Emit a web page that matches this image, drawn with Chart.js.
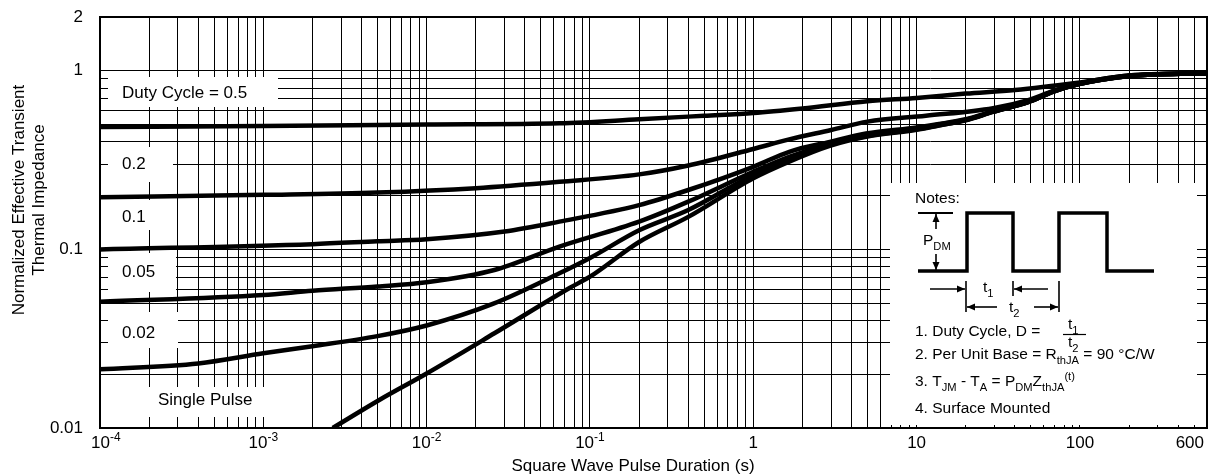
<!DOCTYPE html>
<html>
<head>
<meta charset="utf-8">
<script src="https://cdn.jsdelivr.net/npm/chart.js@4.4.1/dist/chart.umd.min.js"></script>
<style>
  html, body { margin: 0; padding: 0; background: #fff; }
  #wrap { position: relative; width: 1218px; height: 474px; }
</style>
</head>
<body>
<div id="wrap"><canvas id="zth"></canvas></div>
<script>
// pulse duration (s) and normalized Zth
const d50X = [1e-4, 1e-3, 0.01, 0.065, 0.2, 0.5, 1, 2, 5, 10, 20, 40, 100, 200, 600];
const d50Y = [0.484, 0.49, 0.5, 0.508, 0.535, 0.56, 0.58, 0.615, 0.675, 0.705, 0.745, 0.78, 0.86, 0.94, 0.97];

const d20X = [1e-4, 1e-3, 5e-3, 0.02, 0.065, 0.2, 0.4, 1, 1.66, 3, 5, 11.4, 29.4, 48.7, 68, 100, 200, 600];
const d20Y = [0.196, 0.202, 0.208, 0.22, 0.239, 0.263, 0.295, 0.365, 0.413, 0.466, 0.519, 0.56, 0.617, 0.687, 0.77, 0.85, 0.94, 0.97];

const d10X = [1e-4, 2e-3, 5e-3, 0.01, 0.03, 0.065, 0.2, 0.4, 1, 1.66, 2.94, 4.9, 10, 13.7, 20, 29.4, 48.7, 68.4, 97, 200, 600];
const d10Y = [0.1, 0.107, 0.111, 0.114, 0.126, 0.143, 0.177, 0.215, 0.29, 0.352, 0.4, 0.445, 0.482, 0.503, 0.535, 0.592, 0.672, 0.765, 0.84, 0.936, 0.97];

const d05X = [1e-4, 1e-3, 2e-3, 5e-3, 0.01, 0.026, 0.065, 0.2, 0.4, 1, 1.66, 2.94, 4.9, 10, 13.7, 20, 29.4, 48.7, 68.4, 97, 200, 600];
const d05Y = [0.0509, 0.0555, 0.0587, 0.062, 0.0655, 0.0767, 0.1037, 0.143, 0.185, 0.272, 0.33, 0.39, 0.435, 0.475, 0.5, 0.532, 0.59, 0.671, 0.764, 0.84, 0.935, 0.97];

const d02X = [1e-4, 4e-4, 1e-3, 2e-3, 5e-3, 0.01, 0.0254, 0.065, 0.1, 0.2, 0.4, 1, 1.66, 2.94, 4.9, 10, 13.7, 20, 29.4, 48.7, 68.4, 97, 200, 600];
const d02Y = [0.0213, 0.023, 0.0262, 0.0287, 0.0327, 0.0375, 0.0495, 0.0735, 0.0895, 0.128, 0.166, 0.261, 0.317, 0.385, 0.43, 0.47, 0.495, 0.53, 0.59, 0.67, 0.763, 0.84, 0.935, 0.97];

const singleX = [2.66e-3, 5.16e-3, 0.01, 0.026, 0.075, 0.1, 0.2, 0.4, 1, 1.66, 2.94, 4.9, 10, 13.7, 20, 29.4, 48.7, 68.4, 97, 200, 600];
const singleY = [0.01, 0.0144, 0.0202, 0.0339, 0.0608, 0.0703, 0.11, 0.152, 0.25, 0.31, 0.38, 0.427, 0.467, 0.494, 0.528, 0.588, 0.67, 0.762, 0.84, 0.935, 0.97];

const seriesNames = ["Duty Cycle = 0.5", "0.2", "0.1", "0.05", "0.02", "Single Pulse"];

// axis labels
const xLabelVals = [1e-4, 1e-3, 1e-2, 1e-1, 1, 10, 100, 600];
const xLabelBase = ["10", "10", "10", "10", "1", "10", "100", "600"];
const xLabelExp  = ["-4", "-3", "-2", "-1", "", "", "", ""];
const yLabelVals = [0.01, 0.1, 1, 2];
const yLabelText = ["0.01", "0.1", "1", "2"];

const FONT = '"Liberation Sans", Arial, Helvetica, sans-serif';

// grid lines at 1..9 of every decade
function decadeGrid(fromExp, toExp, max) {
  const out = [];
  for (let e = fromExp; e <= toExp; e++) {
    for (let d = 1; d <= 9; d++) {
      const v = +(d * Math.pow(10, e)).toPrecision(3);
      if (v <= max) out.push(v);
    }
  }
  return out;
}
const xGridVals = decadeGrid(-4, 2, 600);
const yGridVals = decadeGrid(-2, 0, 2);

function rich(ctx, x, y, parts, size) {
  let cx = x;
  parts.forEach(([t, k]) => {
    const s = k ? size * 0.72 : size;
    const dy = k === "sub" ? size * 0.32 : k === "sup" ? -size * 0.38 : 0;
    ctx.font = s + "px " + FONT;
    ctx.fillText(t, cx, y + dy);
    cx += ctx.measureText(t).width;
  });
  return cx - x;
}

function arrow(ctx, x1, y1, x2, y2) {
  ctx.beginPath(); ctx.moveTo(x1, y1); ctx.lineTo(x2, y2); ctx.stroke();
  const a = Math.atan2(y2 - y1, x2 - x1), L = 8, W = 3.5;
  ctx.beginPath();
  ctx.moveTo(x2, y2);
  ctx.lineTo(x2 - L * Math.cos(a) + W * Math.sin(a), y2 - L * Math.sin(a) - W * Math.cos(a));
  ctx.lineTo(x2 - L * Math.cos(a) - W * Math.sin(a), y2 - L * Math.sin(a) + W * Math.cos(a));
  ctx.closePath(); ctx.fill();
}

const decor = {
  id: "decor",
  beforeDatasetsDraw(chart) {
    const ctx = chart.ctx;
    ctx.save();
    ctx.fillStyle = "#fff";
    // white boxes behind curve labels and notes
    ctx.fillRect(108, 77, 170, 30);
    ctx.fillRect(108, 147, 65, 35);
    ctx.fillRect(108, 200, 62, 30);
    ctx.fillRect(108, 253, 68, 39);
    ctx.fillRect(108, 312, 70, 36);
    ctx.fillRect(140, 387, 140, 30);
    ctx.fillRect(890, 183, 307, 242);
    ctx.restore();
  },
  afterDatasetsDraw(chart) {
    const ctx = chart.ctx, a = chart.chartArea, xs = chart.scales.x, ys = chart.scales.y;
    ctx.save();
    ctx.strokeStyle = "#000";
    ctx.fillStyle = "#000";
    ctx.lineWidth = 2;
    ctx.strokeRect(a.left, a.top, a.right - a.left, a.bottom - a.top);

    // curve labels
    ctx.font = "17px " + FONT;
    ctx.textBaseline = "alphabetic";
    ctx.textAlign = "left";
    ctx.fillText(seriesNames[0], 122, 98);
    ctx.fillText(seriesNames[1], 122, 169);
    ctx.fillText(seriesNames[2], 122, 222);
    ctx.fillText(seriesNames[3], 122, 277);
    ctx.fillText(seriesNames[4], 122, 338);
    ctx.fillText(seriesNames[5], 158, 405);

    // y tick labels
    ctx.textAlign = "right";
    ctx.textBaseline = "middle";
    yLabelVals.forEach((v, i) => {
      ctx.fillText(yLabelText[i], a.left - 17, ys.getPixelForValue(v));
    });

    // x tick labels with exponents
    ctx.textAlign = "left";
    ctx.textBaseline = "alphabetic";
    xLabelVals.forEach((v, i) => {
      const px = xs.getPixelForValue(v);
      ctx.font = "17px " + FONT;
      const wb = ctx.measureText(xLabelBase[i]).width;
      ctx.font = "12px " + FONT;
      const we = xLabelExp[i] ? ctx.measureText(xLabelExp[i]).width : 0;
      let left = px - (wb + we) / 2;
      if (left < 91) left = 91;
      if (left + wb + we > 1204) left = 1204 - wb - we;
      ctx.font = "17px " + FONT;
      ctx.fillText(xLabelBase[i], left, 448);
      if (xLabelExp[i]) {
        ctx.font = "12px " + FONT;
        ctx.fillText(xLabelExp[i], left + wb, 441);
      }
    });

    // axis titles
    ctx.font = "17px " + FONT;
    ctx.textAlign = "center";
    ctx.fillText("Square Wave Pulse Duration (s)", 633, 471);
    ctx.save();
    ctx.translate(0, 200);
    ctx.rotate(-Math.PI / 2);
    ctx.textBaseline = "middle";
    ctx.fillText("Normalized Effective Transient", 0, 19);
    ctx.fillText("Thermal Impedance", 0, 39);
    ctx.restore();

    // notes box
    ctx.textAlign = "left";
    ctx.textBaseline = "alphabetic";
    const fs = 15.5;
    rich(ctx, 915, 203, [["Notes:"]], fs);

    // pulse train
    ctx.lineWidth = 3.5;
    ctx.lineJoin = "miter";
    ctx.beginPath();
    ctx.moveTo(918, 271);
    ctx.lineTo(967, 271); ctx.lineTo(967, 213); ctx.lineTo(1013, 213); ctx.lineTo(1013, 271);
    ctx.lineTo(1059, 271); ctx.lineTo(1059, 213); ctx.lineTo(1107, 213); ctx.lineTo(1107, 271);
    ctx.lineTo(1154, 271);
    ctx.stroke();

    ctx.lineWidth = 2;
    ctx.beginPath(); ctx.moveTo(918, 213); ctx.lineTo(953, 213); ctx.stroke();
    ctx.lineWidth = 1.6;
    arrow(ctx, 936, 229, 936, 214);
    arrow(ctx, 936, 254, 936, 270);
    rich(ctx, 923, 245, [["P"], ["DM", "sub"]], fs);

    // t1 / t2 dimension marks
    ctx.lineWidth = 1.6;
    [[966, 281, 312], [1013, 281, 296], [1059, 281, 312]].forEach(([x, y1, y2]) => {
      ctx.beginPath(); ctx.moveTo(x, y1); ctx.lineTo(x, y2); ctx.stroke();
    });
    arrow(ctx, 930, 289, 965, 289);
    arrow(ctx, 1048, 289, 1014, 289);
    arrow(ctx, 997, 307, 967, 307);
    arrow(ctx, 1034, 307, 1058, 307);
    rich(ctx, 983, 292, [["t"], ["1", "sub"]], fs);
    rich(ctx, 1009, 312, [["t"], ["2", "sub"]], fs);

    rich(ctx, 915, 336, [["1. Duty Cycle, D ="]], fs);
    rich(ctx, 1068, 329, [["t"], ["1", "sub"]], fs);
    ctx.lineWidth = 1.2;
    ctx.beginPath(); ctx.moveTo(1063, 334.5); ctx.lineTo(1086, 334.5); ctx.stroke();
    rich(ctx, 1068, 347, [["t"], ["2", "sub"]], fs);

    rich(ctx, 915, 359, [["2. Per Unit Base = R"], ["thJA", "sub"], [" = 90 \u00B0C/W"]], fs);
    rich(ctx, 915, 386, [["3. T"], ["JM", "sub"], [" - T"], ["A", "sub"], [" = P"], ["DM", "sub"], ["Z"], ["thJA", "sub"], ["(t)", "sup"]], fs);
    rich(ctx, 915, 413, [["4. Surface Mounted"]], fs);

    ctx.restore();
  }
};

function toPoints(xs, ys) { return xs.map((x, i) => ({ x: x, y: ys[i] })); }

const seriesData = [
  toPoints(d50X, d50Y), toPoints(d20X, d20Y), toPoints(d10X, d10Y),
  toPoints(d05X, d05Y), toPoints(d02X, d02Y), toPoints(singleX, singleY)
];

new Chart(document.getElementById("zth"), {
  type: "line",
  data: {
    datasets: seriesData.map((pts, i) => ({
      label: seriesNames[i],
      data: pts,
      borderColor: "#000",
      borderWidth: 4.5,
      pointRadius: 0,
      fill: false,
      cubicInterpolationMode: "monotone"
    }))
  },
  options: {
    responsive: true,
    maintainAspectRatio: false,
    animation: false,
    layout: { padding: { top: 17, right: 11, left: 0, bottom: 0 } },
    plugins: { legend: { display: false }, tooltip: { enabled: false } },
    scales: {
      x: {
        type: "logarithmic",
        min: 1e-4,
        max: 600,
        afterBuildTicks: ax => { ax.ticks = xGridVals.map(v => ({ value: v })); },
        afterFit: ax => { ax.height = 46; },
        grid: { color: "#000", lineWidth: 1, drawTicks: false },
        border: { display: true, color: "#000", width: 2 },
        ticks: { display: false }
      },
      y: {
        type: "logarithmic",
        min: 0.01,
        max: 2,
        afterBuildTicks: ax => { ax.ticks = yGridVals.map(v => ({ value: v })); },
        afterFit: ax => { ax.width = 100; },
        grid: { color: "#000", lineWidth: 1, drawTicks: false },
        border: { display: true, color: "#000", width: 2 },
        ticks: { display: false }
      }
    }
  },
  plugins: [decor]
});
</script>
</body>
</html>
